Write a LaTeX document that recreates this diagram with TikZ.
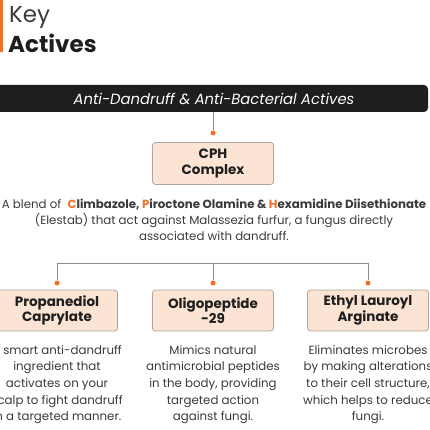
\documentclass[tikz,border=0pt]{standalone}
\usepackage{fontspec}
\setmainfont{Poppins}
\definecolor{accent}{HTML}{F07025}
\definecolor{barblack}{HTML}{1E1E1E}
\definecolor{peach}{HTML}{FCE4D4}
\definecolor{boxline}{HTML}{B0A49B}
\definecolor{linegray}{HTML}{8C8C8C}
\definecolor{txt}{HTML}{3A3A3A}
\tikzset{
  activebox/.style={draw=boxline, line width=0.8pt, fill=peach, rounded corners=3pt,
    minimum width=121pt, minimum height=42pt, align=center, inner sep=2pt,
    font=\fontsize{13.5}{15.5}\selectfont\bfseries, text=barblack},
  desc/.style={align=center, font=\fontsize{11.8}{16.6}\selectfont, text=txt, inner sep=0pt},
  conn/.style={draw=linegray, line width=0.8pt},
  dotc/.style={circle, fill=accent, inner sep=0pt, minimum size=5pt}
}
\begin{document}
\begin{tikzpicture}[x=1pt,y=-1pt]
\useasboundingbox (0,0) rectangle (430,430);
\clip (0,0) rectangle (430,430);
\fill[accent] (0,0) rectangle (3,52);
\node[anchor=base west, inner sep=0pt, text=txt] (key) at (9,23) {\fontsize{23}{23}\selectfont Key};
\node[anchor=base west, inner sep=0pt, text=barblack] (act) at (8,53) {\fontsize{23}{23}\selectfont\bfseries Actives};

\node[fill=barblack, rounded corners=4pt, minimum width=438pt, minimum height=27pt, inner sep=0pt,
  text=white, font=\fontsize{14.8}{15}\selectfont\itshape] (bar) at (209,98.5) {\hspace{10pt}Anti-Dandruff \& Anti-Bacterial Actives};

\node[activebox] (cph) at (213,163.5) {CPH\\Complex};
\node[dotc] (d0) at (213,133) {};
\draw[conn] (bar.south -| d0) -- (d0);

\node[desc, font=\fontsize{11.8}{16}\selectfont] (cphd) at (214,220) {A blend of\ \ {\bfseries\textcolor{accent}{C}limbazole, \textcolor{accent}{P}iroctone Olamine \& \textcolor{accent}{H}examidine Diisethionate}\\(Elestab) that act against Malassezia furfur, a fungus directly\\associated with dandruff.};

\node[activebox, minimum height=41pt] (b1) at (57,310.5) {Propanediol\\Caprylate};
\node[activebox, minimum height=41pt] (b2) at (213,310.5) {Oligopeptide\\-29};
\node[activebox, minimum height=41pt] (b3) at (368,310.5) {Ethyl Lauroyl\\Arginate};

\node[dotc] (d1) at (57,283) {};
\node[dotc] (d2) at (213,283) {};
\node[dotc] (d3) at (368,283) {};
\coordinate (h1) at (57,263);
\coordinate (h3) at (368,263);
\draw[conn] (d1) -- (h1) -- (h3) -- (d3);
\draw[conn] (d2) -- (d2 |- h1);

\node[desc] (t1) at (57,384.5) {A smart anti-dandruff\\ingredient that\\activates on your\\scalp to fight dandruff\\in a targeted manner.};
\node[desc] (t2) at (213,384.5) {Mimics natural\\antimicrobial peptides\\in the body, providing\\targeted action\\against fungi.};
\node[desc] (t3) at (368,384.5) {Eliminates microbes\\by making alterations\\to their cell structure,\\which helps to reduce\\fungi.};
\end{tikzpicture}
\end{document}
